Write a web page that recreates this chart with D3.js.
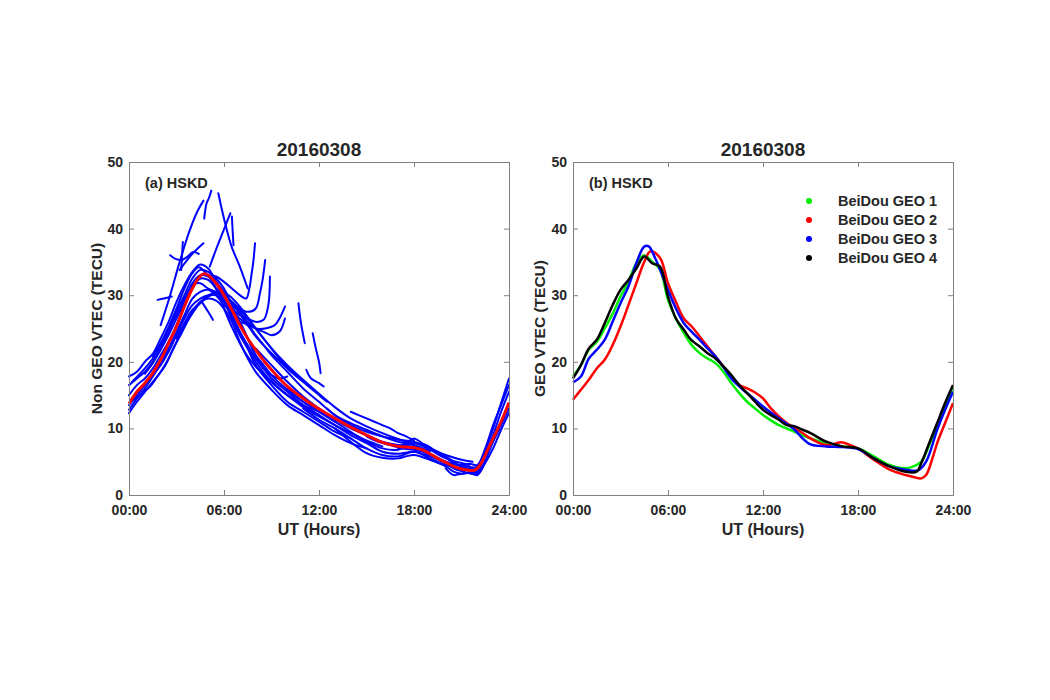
<!DOCTYPE html>
<html><head><meta charset="utf-8">
<script src="https://cdn.jsdelivr.net/npm/d3@7"></script>
<style>body{margin:0;background:#fff}svg{display:block}text{font-family:"Liberation Sans",Arial,sans-serif;font-weight:bold;fill:#262626}</style>
</head><body>
<script>
const titleText = "20160308";
const xTickValues = [0, 6, 12, 18, 24];
const xTickLabels = ["00:00", "06:00", "12:00", "18:00", "24:00"];
const yTickValues = [0, 10, 20, 30, 40, 50];

// Panel (a): non-GEO satellite arcs [hour, VTEC]
const nonGeoArcs = [
  [[0,17.8],[0.5,18.5],[1,20],[1.5,21.2],[2,23.5],[2.5,26],[3,29],[3.5,31.5],[4,33.5],[4.5,34.6],[5,34],[5.5,32],[6,29.5],[6.5,27],[7,24.5],[7.5,22.5],[8,20.5],[8.5,19],[9,18],[9.5,17.5],[10,17.8]],
  [[0,16.5],[0.5,17.5],[1,18.5],[1.5,20],[2,22],[2.5,24.5],[3,27.5],[3.5,30],[4,32.5],[4.5,33.8],[5,33.5],[5.5,32.5],[6,31],[6.5,28.5],[7,26],[7.5,23.5],[8,21],[8.5,19],[9,17.5],[10,15.5],[11,13.5],[12,12]],
  [[0,15],[0.5,16.5],[1,17.5],[1.5,19],[2,21],[2.5,23],[3,25.5],[3.5,28.5],[4,31],[4.5,32.5],[5,32.3],[5.5,31],[6,29],[6.5,26.5],[7,24],[7.5,22],[8,20],[9,17],[10,15],[11,13.5],[12,12.5],[13,11]],
  [[0,13.5],[0.5,15],[1,16.5],[1.5,18],[2,19.5],[2.5,21.5],[3,24],[3.5,26.5],[4,28.5],[4.5,29.5],[5,30],[5.5,30],[6,29],[6.5,27],[7,24.5],[7.5,22],[8,19.5],[9,16.5],[10,14],[11,12.5],[12,11],[13,9.5],[14,8.5]],
  [[0,12.3],[0.5,14],[1,15.5],[1.5,17],[2,18.5],[2.5,20.5],[3,23],[3.5,25.5],[4,27.5],[4.5,29],[5,29.5],[5.5,29.2],[6,28],[6.5,26],[7,23],[7.5,20.5],[8,18.5],[9,15.8],[10,13.5],[11,12],[12,10.5],[13,9],[14,7.8],[15,7]],
  [[0.2,17],[1,19],[1.5,20.5],[2,22.5],[2.5,25],[3,27],[3.5,29.5],[4,31.5],[4.5,31.8],[5,31],[5.5,30.5],[6,30],[6.5,29],[7,27.5],[7.5,26],[8,25],[8.5,24.5],[9,24],[9.5,24.5],[9.85,26.5]],
  [[0,12.8],[0.5,14.5],[1,16],[1.5,17.8],[2,19.8],[2.5,22],[3,24.5],[3.5,27],[4,29.5],[4.5,30.5],[5,30.8],[5.5,30],[6,28.5],[6.5,27.5],[7,26],[7.5,23.5],[8,21],[8.5,19.5],[9,18],[10,15.8],[11,14],[12,12.8]],
  [[1,18.2],[1.5,19.8],[2,21.8],[2.5,24],[3,26.5],[3.5,29],[4,31.8],[4.5,33],[5,32.8],[5.5,32],[6,30.5],[6.5,28.8],[7,27.2],[7.5,25.5],[8,23.8],[8.5,22.5],[9,21.3],[10,19],[11,17],[11.5,16.2]],
  [[0.3,14.2],[0.8,15.3],[1.3,16.2],[1.8,17.8],[2.3,19.5],[2.8,22],[3.3,24.2],[3.8,26.5],[4.3,28.3],[4.8,29.6],[5.3,30.3],[5.8,30.6],[6.3,30],[7,28.3],[8,25],[9,22],[10,19.5],[11,17.3],[12,15.2],[13,13.2],[14,11.5],[15,10.3],[16,9.3],[17,8.4],[18,7.6]],
  [[1.5,20.8],[2,22.8],[2.5,25.2],[3,28],[3.5,31],[4,33.3],[4.4,34.2],[4.9,33.2],[5.4,31.5],[6,28],[6.5,25.2],[7,22.8],[7.5,20.8],[8,19.3],[9,17],[10,15],[11,13.2],[12,11.8],[13,10.5],[14,9.3],[15,8.2],[16,7.3]],
  [[3,23.5],[3.5,25.8],[4,27.8],[4.5,28.8],[5,29.8],[5.5,30.2],[6,29.8],[6.5,29],[7,27.8],[7.5,26.5],[8,25],[8.5,23.5],[9,22],[9.5,20.5],[10,19.3],[11,17],[12,15],[12.5,14]],
  [[5,33],[5.5,32.8],[6,32],[6.5,31],[7,30],[7.4,29.5],[7.6,31],[7.75,33.3],[7.85,35],[7.96,37.8]],
  [[5.5,31],[6,30],[6.5,29],[7,28],[7.5,27.5],[8,28],[8.27,30.3],[8.45,32.5],[8.6,35.3]],
  [[6,29],[7,26.5],[8,25],[8.6,25],[9.2,25.5],[9.5,26.5],[9.85,28.3]],
  [[6.5,28],[7,27],[7.5,26.5],[8,26],[8.5,26.3],[8.8,28.5],[8.9,32.8]],
  [[7,26],[7.5,25.5],[8,24],[8.5,22.5],[9,21],[10,18.5],[11,16],[12,14],[13,12],[14,10.8],[15,9.8],[16,8.8],[17,8],[18,7.5],[19,6.5]],
  [[8,22],[9,19.5],[10,17],[11,14.8],[12,13],[13,11.3],[14,10],[15,9],[16,8],[17,7.5],[18,7.2],[19,6],[20,5]],
  [[9,17],[10,15],[11,13.5],[12,12],[13,10.5],[14,9],[15,7.8],[16,6.5],[17,6.2],[18,6.5],[19,5.8],[20,4.8],[20.5,4.3]],
  [[10,16],[11,14],[12,12.5],[13,11],[14,9.5],[15,8],[16,7],[17,6.8],[17.5,7.5],[18,7.8],[19,6.8],[20,5.5],[21,4.8],[21.5,4.5]],
  [[11,13],[12,11.3],[13,10],[14,8.5],[15,7],[16,6],[17,5.8],[18,6.5],[19,5.5],[20,4.5],[21,4],[22,3.5]],
  [[14,12.5],[14.5,12],[15,11.5],[15.5,11],[16,10.5],[16.5,10],[17,9.3],[17.5,8.8],[18,8.2]],
  [[12.5,13],[13,12],[14,10.5],[15,9.5],[16,8.8],[17,8.3],[18,8],[19,7],[20,6],[21,5.3],[21.7,5]],
  [[13,10],[14,8],[15,6.3],[16,5.6],[17,5.5],[17.5,5.8],[18,6],[19,5.3],[20,4.3],[20.5,3.5],[21,3.2],[21.5,3.4],[22,3.3]],
  [[15,8.8],[15.5,8.2],[16,7.8],[16.5,7.5],[17,7.2],[17.5,7.8],[18,8.5],[18.5,7.8],[19,7.2],[19.5,6.3],[20,5.6],[20.5,4.8]],
  [[17,7],[18,6.8],[19,6.2],[20,5],[21,4.5],[22,4.2],[22.5,6],[23,9],[23.5,12.5],[24,15.5]],
  [[18,7.3],[19,6],[20,4.8],[20.5,4],[21,3.6],[22,3.2],[22.5,5.2],[23,8],[23.5,10.5],[24,13]],
  [[19.5,5.5],[20,5],[21,4.3],[21.5,3.8],[22,3.5],[22.5,6.5],[23,10],[23.5,13.8],[24,17.5]],
  [[20,4],[20.5,3],[21,3.2],[21.5,3.3],[22,3],[22.5,4.8],[23,7],[23.5,9.8],[24,12.3]],
  [[21,4.5],[21.5,4.7],[22,4.5],[22.5,7],[23,10.5],[23.5,13.5],[24,16.5]],
  [[19,7],[19.5,6.5],[20,5.8],[20.5,5],[21,4.2],[22,3.8]],
  [[2.0,25.5],[2.6,30],[3.2,35],[3.8,39.5],[4.3,42.5],[4.7,44.2]],
  [[4.75,41.5],[4.9,43.8],[5.05,44.6],[5.2,45.7]],
  [[5.64,45.3],[6.0,41.5],[6.48,37.3],[7.0,34.3],[7.5,31]],
  [[5.1,34.3],[5.6,37.5],[6.1,40.5],[6.4,42.3]],
  [[6.5,41.8],[6.55,39.5],[6.6,37.5]],
  [[10.7,28.8],[10.85,26],[11.1,22.8]],
  [[11.6,24.3],[11.8,22],[12.0,20],[12.1,18.3]],
  [[11.2,18.8],[11.5,17.5],[12,16.8],[12.3,16.3]],
  [[2.6,36],[2.9,35.5],[3.2,35.3]],
  [[3.3,35.2],[3.7,35.8],[4.06,36.5],[4.4,36.2]],
  [[3.3,33.8],[3.35,36],[3.4,38]],
  [[1.8,29.3],[2.2,29.5],[2.7,29.8]],
  [[4.6,29],[5.0,27.5],[5.3,26.3]],
  [[3.2,33.8],[4.0,36.2],[4.7,37.8]]
];
const nonGeoMean = [[0,13.7],[0.5,15.5],[1,16.8],[1.5,18.3],[2,20.3],[2.5,22.8],[3,25.3],[3.5,28.3],[4,31],[4.4,32.6],[4.7,33.2],[5,33],[5.5,31.8],[6,30],[6.5,27.8],[7,25.5],[7.5,23.5],[8,21.8],[8.5,20.2],[9,18.8],[9.5,17.5],[10,16.3],[11,14.5],[12,12.9],[13,11.5],[14,10.2],[15,9],[16,7.9],[17,7.3],[17.5,7.2],[18,7.1],[18.5,6.8],[19,6.2],[19.5,5.5],[20,4.9],[20.5,4.3],[21,3.9],[21.5,3.7],[21.8,3.7],[22,4],[22.3,5],[22.6,6.5],[23,8.5],[23.5,11],[24,13.9]];

// Panel (b): GEO satellites
const geoNames = ["BeiDou GEO 1", "BeiDou GEO 2", "BeiDou GEO 3", "BeiDou GEO 4"];
const geoColors = ["#00ee00", "#ff0000", "#0000ff", "#000000"];
const geo1 = [[0,17.8],[0.5,19.5],[1,21.8],[1.5,23],[2,25],[2.5,27.2],[3,29.8],[3.5,32],[4,34.8],[4.5,36],[5,35],[5.5,33.8],[6,29.3],[6.5,26.5],[7,24.3],[7.5,22.5],[8,21.3],[8.5,20.5],[9,19.8],[9.5,18.5],[10,16.8],[10.5,15.3],[11,14],[11.5,13],[12,12],[12.5,11.2],[13,10.5],[14,9.5],[15,8.5],[16,7.8],[17,7.3],[18,7],[19,5.8],[20,4.5],[21,4],[21.5,4.3],[22,5],[22.5,7.5],[23,10.3],[23.5,13.3],[24,16.3]];
const geo2 = [[0,14.3],[0.5,15.8],[1,17.3],[1.5,19],[2,20.3],[2.5,22.5],[3,25.3],[3.5,28.5],[4,31.8],[4.5,35],[4.9,36.6],[5.5,35.6],[6,31.8],[6.5,29],[7,26.5],[7.5,25.3],[8,23.8],[8.5,22.3],[9,20.8],[9.5,19.3],[10,17.8],[10.5,16.5],[11,16],[11.5,15.4],[12,14.5],[12.5,13],[13,11.8],[13.5,10.8],[14,10],[14.5,9.3],[15,8.5],[16,7.5],[17,7.9],[17.5,7.5],[18,7],[19,5.3],[20,3.8],[21,3],[21.5,2.7],[22,2.5],[22.3,3],[22.7,5.5],[23,7.8],[23.5,10.8],[24,13.8]];
const geo3 = [[0,16.9],[0.5,17.8],[1,20.5],[1.5,21.8],[2,23.3],[2.5,26],[3,28.8],[3.5,31.3],[4,34.8],[4.5,37.3],[4.8,37.3],[5.2,35.5],[5.5,33.8],[6,30.8],[6.5,28],[7,25.8],[7.5,24.5],[8,23.3],[8.5,22],[9,20.8],[9.5,19.2],[10,17.5],[10.5,16.3],[11,15.3],[11.5,14.3],[12,13.3],[13,11.5],[14,9.8],[14.5,8.5],[15,7.6],[16,7.3],[17,7.2],[18,6.9],[19,5.5],[20,4.3],[21,3.8],[21.8,3.7],[22.3,5],[23,9.8],[23.5,12.8],[24,15.5]];
const geo4 = [[0,17.5],[0.5,19.5],[1,22],[1.5,23.3],[2,25.8],[2.5,28.5],[3,30.8],[3.5,32.3],[4,34],[4.5,35.8],[5,34.8],[5.5,34.3],[6,29.8],[6.5,26.5],[7,24.8],[7.5,23.2],[8,22.3],[8.5,21.3],[9,20.5],[9.5,19.3],[10,18],[10.5,16.5],[11,15.3],[11.5,14],[12,12.8],[12.5,12],[13,11.3],[13.5,10.5],[14,10.3],[14.5,9.8],[15,9.3],[16,8],[17,7.3],[18,7],[19,5.5],[20,4.3],[21,3.5],[21.7,3.5],[22,4.8],[22.5,7.8],[23,10.8],[23.5,13.8],[24,16.5]];
const geoSeries = [geo1, geo2, geo3, geo4];

const W = 1050, H = 700;
const svg = d3.select("body").append("svg").attr("width", W).attr("height", H);

const plotTop = 162, plotBottom = 495;
const panels = [
  {left: 129, right: 509, tag: "(a) HSKD", ylabel: "Non GEO VTEC (TECU)", ylabelX: 97},
  {left: 573, right: 953, tag: "(b) HSKD", ylabel: "GEO VTEC (TECU)", ylabelX: 540}
];

function drawFrame(p) {
  const x = d3.scaleLinear().domain([0, 24]).range([p.left, p.right]);
  const y = d3.scaleLinear().domain([0, 50]).range([plotBottom, plotTop]);
  const g = svg.append("g");
  const axisColor = "#808080";
  const xb = g.append("g").attr("transform", `translate(0,${plotBottom})`)
    .call(d3.axisBottom(x).tickValues(xTickValues).tickFormat((d,i)=>xTickLabels[i]).tickSizeInner(-5).tickSizeOuter(0).tickPadding(10));
  const xt = g.append("g").attr("transform", `translate(0,${plotTop})`)
    .call(d3.axisTop(x).tickValues(xTickValues).tickFormat("").tickSizeInner(-5).tickSizeOuter(0));
  const yl = g.append("g").attr("transform", `translate(${p.left},0)`)
    .call(d3.axisLeft(y).tickValues(yTickValues).tickSizeInner(-5).tickSizeOuter(0).tickPadding(6));
  const yr = g.append("g").attr("transform", `translate(${p.right},0)`)
    .call(d3.axisRight(y).tickValues(yTickValues).tickFormat("").tickSizeInner(-5).tickSizeOuter(0));
  [xb, xt, yl, yr].forEach(a => {
    a.selectAll("path").attr("stroke", axisColor).attr("stroke-width", 1);
    a.selectAll("line").attr("stroke", axisColor).attr("stroke-width", 1);
    a.selectAll("text").style("font-family", '"Liberation Sans",Arial,sans-serif').style("font-weight", "bold").style("font-size", "14px").attr("fill", "#262626");
  });
  g.append("text").attr("x", (p.left + p.right) / 2).attr("y", 156).attr("text-anchor", "middle").style("font-size", "19px").text(titleText);
  g.append("text").attr("x", (p.left + p.right) / 2).attr("y", 535).attr("text-anchor", "middle").style("font-size", "16px").text("UT (Hours)");
  g.append("text").attr("transform", `translate(${p.ylabelX},${(plotTop + plotBottom) / 2}) rotate(-90)`).attr("text-anchor", "middle").attr("dy", "0.35em").style("font-size", "15.5px").text(p.ylabel);
  g.append("text").attr("x", p.left + 16).attr("y", 188).style("font-size", "14.5px").text(p.tag);
  return {x, y, g};
}

// Panel a
const A = drawFrame(panels[0]);
const lineA = d3.line().x(d => A.x(d[0])).y(d => A.y(d[1])).curve(d3.curveCatmullRom.alpha(0.5));
const dataLayerA = svg.insert("g", ":first-child");
dataLayerA.selectAll("path.arc").data(nonGeoArcs).join("path").attr("class", "arc")
  .attr("d", lineA).attr("fill", "none").attr("stroke", "#0000ff").attr("stroke-width", 2).attr("stroke-linejoin", "round").attr("stroke-linecap", "round");
dataLayerA.append("path").datum(nonGeoMean).attr("d", lineA).attr("fill", "none").attr("stroke", "#ff0000").attr("stroke-width", 3);

// Panel b
const B = drawFrame(panels[1]);
const lineB = d3.line().x(d => B.x(d[0])).y(d => B.y(d[1])).curve(d3.curveCatmullRom.alpha(0.5));
const dataLayerB = svg.insert("g", ":first-child");
dataLayerB.selectAll("path.geo").data(geoSeries).join("path").attr("class", "geo")
  .attr("d", lineB).attr("fill", "none").attr("stroke", (d, i) => geoColors[i]).attr("stroke-width", 2.5).attr("stroke-linejoin", "round");

// legend
const leg = svg.append("g");
geoNames.forEach((n, i) => {
  const yy = 201 + i * 19;
  leg.append("circle").attr("cx", 809).attr("cy", yy).attr("r", 3).attr("fill", geoColors[i]);
  leg.append("text").attr("x", 838).attr("y", yy + 5).style("font-size", "14.5px").text(n);
});
</script>
</body></html>
